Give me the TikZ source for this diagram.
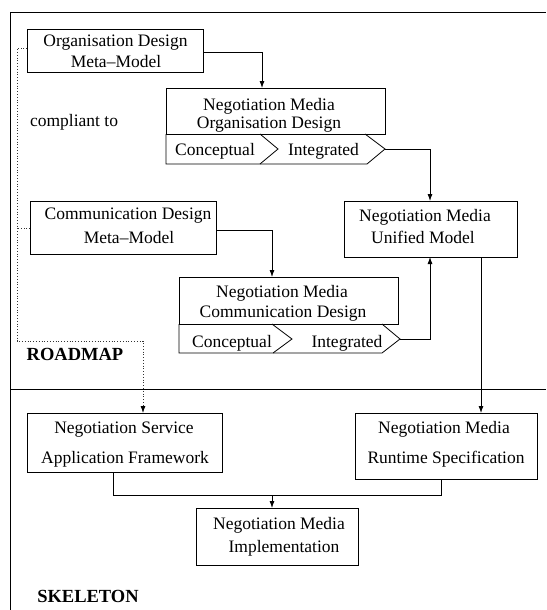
\documentclass[tikz,border=0pt]{standalone}
\usepackage{fontspec}
\setmainfont{Liberation Serif}
\usetikzlibrary{arrows.meta}
\begin{document}
\begin{tikzpicture}[x=1pt,y=-1pt,
  every node/.style={inner sep=0pt,outer sep=0pt},
  boxshape/.style={draw,line width=0.8pt},
  txt/.style={anchor=base,font=\fontsize{17.5}{20}\selectfont},
  lbl/.style={anchor=base,font=\fontsize{18.5}{20}\selectfont\bfseries},
  conn/.style={line width=0.8pt},
  arr/.style={line width=0.8pt,-{Latex[length=7pt,width=5pt]}},
  dotline/.style={line width=0.8pt,dash pattern=on 0.8pt off 2pt,draw=black!80},
  frameline/.style={line width=0.9pt}]
\useasboundingbox (0,0) rectangle (546,610);
% frame
\draw[frameline] (10,610) -- (10,12) -- (546,12);
\draw[frameline] (10,389) -- (546,389);
% labels
\node[txt] (compl) at (74,126) {compliant to};
\node[lbl] (roadmap) at (75,360) {ROADMAP};
\node[lbl] (skeleton) at (88,602) {SKELETON};
% Organisation Design Meta-Model
\node[boxshape,minimum width=176pt,minimum height=43pt] (omm) at (115,50.5) {};
\node[txt] (omm1) at (115.5,47) {Organisation Design};
\node[txt] (omm2) at (116,67) {Meta--Model};
% Negotiation Media Organisation Design
\node[boxshape,minimum width=219pt,minimum height=46pt] (nmod) at (275.5,111) {};
\node[txt] (nmod1) at (269,110) {Negotiation Media};
\node[txt] (nmod2) at (269,128) {Organisation Design};
\coordinate (nmodtip) at (385,149);
\draw[line width=0.8pt] (166,134) -- (166,164) -- (260,164) -- (278,149) -- (260,134);
\draw[line width=0.8pt] (260,164) -- (367,164) -- (nmodtip) -- (365,134);
\node[txt] (nmodc) at (215,155) {Conceptual};
\node[txt] (nmodi) at (323.5,155) {Integrated};
% Communication Design Meta-Model
\node[boxshape,minimum width=186pt,minimum height=53pt] (cmm) at (123,227.5) {};
\node[txt] (cmm1) at (128,219) {Communication Design};
\node[txt] (cmm2) at (129,243) {Meta--Model};
% Negotiation Media Communication Design
\node[boxshape,minimum width=219pt,minimum height=47pt] (nmcd) at (288.5,300.5) {};
\node[txt] (nmcd1) at (282,297) {Negotiation Media};
\node[txt] (nmcd2) at (283,317) {Communication Design};
\coordinate (nmcdtip) at (400,339);
\draw[line width=0.8pt] (179,324) -- (179,353) -- (273,353) -- (292,339) -- (272,324);
\draw[line width=0.8pt] (273,353) -- (382,353) -- (nmcdtip) -- (382,324);
\node[txt] (nmcdc) at (232,347) {Conceptual};
\node[txt] (nmcdi) at (347,347) {Integrated};
% Unified Model
\node[boxshape,minimum width=173pt,minimum height=56pt] (um) at (430.5,229) {};
\node[txt] (um1) at (425,221) {Negotiation Media};
\node[txt] (um2) at (423,243) {Unified Model};
% Application Framework
\node[boxshape,minimum width=195pt,minimum height=59pt] (nsaf) at (124.5,442.5) {};
\node[txt] (nsaf1) at (124,433) {Negotiation Service};
\node[txt] (nsaf2) at (125,463) {Application Framework};
% Runtime Specification
\node[boxshape,minimum width=182pt,minimum height=66pt] (rt) at (446,446) {};
\node[txt] (rt1) at (444,433) {Negotiation Media};
\node[txt] (rt2) at (446,463) {Runtime Specification};
% Implementation
\node[boxshape,minimum width=162pt,minimum height=57pt] (impl) at (277,536.5) {};
\node[txt] (impl1) at (279,529) {Negotiation Media};
\node[txt] (impl2) at (284,552) {Implementation};
% connectors
\draw[arr] (omm.east |- 0,52) -- (262,52) -- (262,0 |- nmod.north);
\draw[arr] (nmodtip) -- (430,149) -- (430,0 |- um.north);
\draw[arr] (cmm.east |- 0,230) -- (272,230) -- (272,0 |- nmcd.north);
\draw[arr] (nmcdtip) -- (430,339) -- (430,0 |- um.south);
\draw[arr] (481,0 |- um.south) -- (481,0 |- rt.north);
\draw[conn] (113,0 |- nsaf.south) -- (113,495) -- (441,495) -- (441,0 |- rt.south);
\coordinate (join) at (272,495);
\draw[arr] (join) -- (272,0 |- impl.north);
% dotted compliance lines
\draw[dotline] (omm.west |- 0,48) -- (17,48) -- (17,341) -- (143,341) -- (143,405);
\draw[line width=0.8pt,-{Latex[length=7pt,width=5pt]}] (143,406) -- (143,0 |- nsaf.north);
\draw[dotline] (cmm.west |- 0,228) -- (17,228);
\end{tikzpicture}
\end{document}
